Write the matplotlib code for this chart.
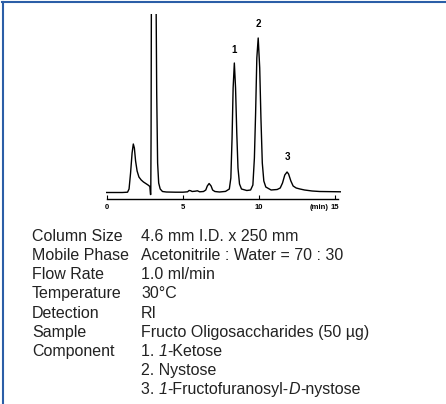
import matplotlib
matplotlib.use("Agg")
import matplotlib.pyplot as plt
from matplotlib.lines import Line2D

plt.rcParams["font.family"] = ["Liberation Sans", "DejaVu Sans"]

# ── chromatogram trace (time in min, signal a.u.) ───────────────────────────
time_min = [-0.05, 1.0, 1.35, 1.45, 1.55, 1.65, 1.73, 1.80, 1.88, 1.98, 2.1, 2.25,
            2.4, 2.55, 2.7, 2.82, 2.86, 2.88, 2.90, 2.93, 3.2, 3.27, 3.33, 3.4,
            3.5, 3.65, 3.9, 4.5, 5.0, 5.3, 5.4, 5.5, 5.6, 5.8, 5.95, 6.1, 6.35,
            6.5, 6.6, 6.72, 6.85, 6.95, 7.1, 7.4, 7.8, 8.05, 8.15, 8.23, 8.3, 8.38,
            8.46, 8.54, 8.62, 8.72, 8.85, 9.2, 9.45, 9.6, 9.7, 9.78, 9.86, 9.95,
            10.05, 10.13, 10.22, 10.32, 10.45, 10.8, 11.2, 11.4, 11.55, 11.7,
            11.85, 11.95, 12.1, 12.25, 12.45, 12.7, 13.0, 13.5, 14.0, 15.4]
signal = [0.5, 0.5, 0.8, 4, 20, 40, 49, 45, 32, 22, 16, 13,
          11, 9.5, 8, 6.5, -1.5, -1.5, 60, 260, 260, 100, 30, 10,
          4, 1.5, 1.0, 0.8, 0.8, 1.2, 2.5, 2.3, 1.5, 1.8, 2.2, 1.2, 1.5,
          3, 7, 9.5, 7, 3, 1.5, 1.0, 1.6, 4, 15, 55, 105, 130,
          105, 60, 25, 9, 4, 2.5, 3, 8, 35, 80, 135, 155,
          125, 75, 30, 12, 6, 3, 3.5, 5, 10, 18,
          21, 19, 12, 7, 5, 4, 3, 2, 1.5, 1.2]

peak_labels = ["1", "2", "3"]
peak_times = [8.36, 9.93, 11.9]
peak_label_y = [143, 169, 36]

xticks = [0, 5, 10, 15]
xtick_labels = ["0", "5", "10", "15"]

cond_names = ["Column Size", "Mobile Phase", "Flow Rate", "Temperature",
              "Detection", "Sample", "Component", "", ""]
# each value is a list of (text, italic) pieces
cond_values = [
    [("4.6 mm I.D. x 250 mm", False)],
    [("Acetonitrile : Water = 70 : 30", False)],
    [("1.0 ml/min", False)],
    [("30°C", False)],
    [("RI", False)],
    [("Fructo Oligosaccharides (50 µg)", False)],
    [("1. ", False), ("1", True), ("-Ketose", False)],
    [("2. Nystose", False)],
    [("3. ", False), ("1", True), ("-Fructofuranosyl-", False), ("D", True), ("-nystose", False)],
]

W, H = 446, 404
fig = plt.figure(figsize=(W / 100, H / 100), dpi=100)
fig.patch.set_facecolor("white")
renderer = fig.canvas.get_renderer()

# chromatogram axes (pixel-placed)
x0, x1 = 105.5, 341.0
ytop, ybot = 14, 199
ax = fig.add_axes([x0 / W, 1 - ybot / H, (x1 - x0) / W, (ybot - ytop) / H])
ax.plot(time_min, signal, color="black", lw=1.0)
ax.set_xlim(-0.1, 15.4)
ax.set_ylim(-6, 179)
for s in ["left", "top", "right"]:
    ax.spines[s].set_visible(False)
ax.spines["bottom"].set_bounds(0, 15.2)
ax.spines["bottom"].set_linewidth(1.0)
ax.set_yticks([])
ax.set_xticks(xticks)
ax.set_xticklabels(xtick_labels, fontsize=5.5, fontweight="bold")
ax.tick_params(axis="x", direction="in", length=3, width=0.8, pad=3.5)

# "(min)" sits just left of the 15 label, same baseline
lbl15 = ax.get_xticklabels()[-1]
bb = lbl15.get_window_extent(renderer)
fig.text((bb.x0 - 2) / W, bb.y0 / H, "(min)", fontsize=5.5, fontweight="bold",
         ha="right", va="bottom")

for lab, t, y in zip(peak_labels, peak_times, peak_label_y):
    ax.text(t, y, lab, fontsize=7, fontweight="bold", ha="center", va="center")

# conditions table
row0, step = 240.7, 19.2
fs = 11.5
col = "#222222"
for i, (n, pieces) in enumerate(zip(cond_names, cond_values)):
    yb = 1 - (row0 + i * step) / H
    if n:
        fig.text(32 / W, yb, n, fontsize=fs, color=col, va="baseline")
    xpix = 141.0
    for txt, it in pieces:
        t = fig.text(xpix / W, yb, txt, fontsize=fs, color=col, va="baseline",
                     style="italic" if it else "normal")
        xpix += t.get_window_extent(renderer).width

# blue frame on top and left
fig.add_artist(Line2D([2 / W, 1], [1 - 2 / H, 1 - 2 / H], color="#2b5ea7", lw=1.5))
fig.add_artist(Line2D([2.5 / W, 2.5 / W], [0, 1 - 2 / H], color="#2b5ea7", lw=1.5))

fig.savefig("out.png", dpi=100, facecolor="white")
